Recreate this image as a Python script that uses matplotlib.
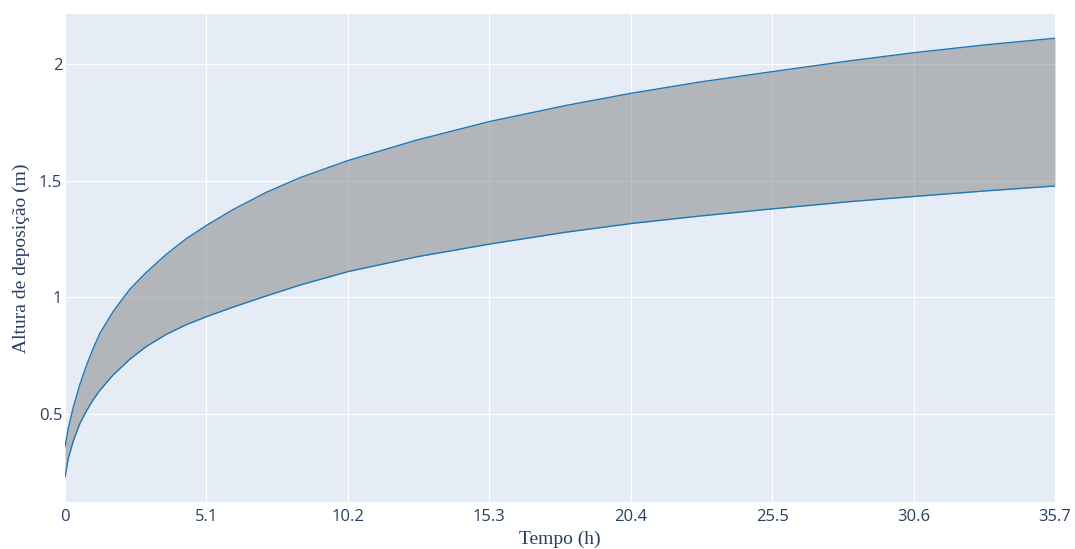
import matplotlib
matplotlib.use("Agg")
import matplotlib.pyplot as plt

# Deposition height envelope over time
tempo_h = [0.0, 0.12, 0.3, 0.54, 0.78, 1.02, 1.26, 1.74, 2.34, 2.94, 3.66, 4.38,
           5.1, 6.06, 7.26, 8.46, 10.2, 12.66, 15.3, 18.06, 20.4, 22.86, 25.5,
           28.4, 30.6, 33.2, 35.7]
altura_max = [0.36, 0.44, 0.53, 0.628, 0.71, 0.782, 0.846, 0.94, 1.035, 1.108,
              1.185, 1.252, 1.308, 1.376, 1.450, 1.512, 1.586, 1.673, 1.753, 1.822,
              1.874, 1.922, 1.967, 2.015, 2.048, 2.082, 2.110]
altura_min = [0.23, 0.31, 0.385, 0.46, 0.515, 0.562, 0.602, 0.668, 0.735, 0.790,
              0.842, 0.883, 0.917, 0.958, 1.006, 1.052, 1.110, 1.173, 1.228, 1.279,
              1.316, 1.348, 1.379, 1.411, 1.432, 1.456, 1.477]

x_ticks = [0, 5.1, 10.2, 15.3, 20.4, 25.5, 30.6, 35.7]
x_tick_labels = ["0", "5.1", "10.2", "15.3", "20.4", "25.5", "30.6", "35.7"]
y_ticks = [0.5, 1.0, 1.5, 2.0]
y_tick_labels = ["0.5", "1", "1.5", "2"]

text_color = "#2a3f5f"
line_color = "#1f77b4"

fig = plt.figure(figsize=(10.75, 5.49), dpi=100)
ax = fig.add_axes([65 / 1075, 1 - 502 / 549, 990 / 1075, 488 / 549])
ax.set_facecolor("#E5ECF6")
ax.set_axisbelow(True)
ax.grid(True, color="white", linewidth=0.8)

ax.fill_between(tempo_h, altura_min, altura_max, color="#808080", alpha=0.5,
                linewidth=0, zorder=2)
ax.plot(tempo_h, altura_min, color=line_color, linewidth=1.0, zorder=3)
ax.plot(tempo_h, altura_max, color=line_color, linewidth=1.0, zorder=3)

ax.set_xlim(0, 35.7)
ax.set_ylim(0.123, 2.214)
ax.set_xticks(x_ticks)
ax.set_xticklabels(x_tick_labels)
ax.set_yticks(y_ticks)
ax.set_yticklabels(y_tick_labels)

for spine in ax.spines.values():
    spine.set_visible(False)

ax.tick_params(axis="both", length=0, colors=text_color, labelsize=12)
ax.tick_params(axis="x", pad=5)
ax.tick_params(axis="y", pad=2)
for lbl in ax.get_xticklabels() + ax.get_yticklabels():
    lbl.set_fontfamily("Open Sans")

ax.set_xlabel("Tempo (h)", fontfamily="Liberation Serif", fontsize=14,
              color=text_color, labelpad=4)
ax.set_ylabel("Altura de deposição (m)", fontfamily="Liberation Serif",
              fontsize=14, color=text_color, labelpad=6)

fig.savefig("out.png", dpi=100)
